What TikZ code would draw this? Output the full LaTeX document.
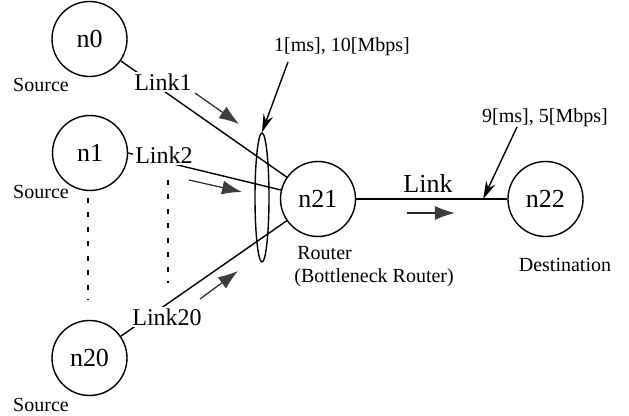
\documentclass[tikz,border=0pt]{standalone}
\usepackage{fontspec}
\setmainfont{Liberation Serif}
\usetikzlibrary{arrows.meta, shapes.geometric}
\definecolor{flowgray}{RGB}{60, 62, 56}

\begin{document}
\begin{tikzpicture}[
  x=0.5pt, y=-0.5pt,
  host/.style={circle, draw, line width=0.7pt, minimum size=37.5pt, inner sep=0pt, font=\fontsize{13}{15}\selectfont},
  role/.style={inner sep=0pt, font=\fontsize{10}{12}\selectfont},
  linklabel/.style={fill=white, inner sep=1pt, font=\fontsize{12}{14}\selectfont},
  line/.style={draw, line width=0.7pt},
  flow/.style={draw=black!85, line width=0.6pt, -{Latex[length=10pt, width=7pt, fill=flowgray, color=flowgray]}},
  pointer/.style={draw, line width=0.7pt, -{Stealth[length=9pt, width=5pt]}},
  dots/.style={draw, line width=0.7pt, dash pattern=on 2.5pt off 4.75pt}
]
  \useasboundingbox (0,0) rectangle (629,416);

  % hosts
  \node[host] (n0) at (89.5,39) {n0};
  \node[host] (n1) at (90,153) {n1};
  \node[host] (n20) at (89.5,358) {n20};
  \node[host] (n21) at (318,199) {n21};
  \node[host] (n22) at (545.5,199) {n22};

  \node[role] (src0) at (41,85) {Source};
  \node[role] (src1) at (41,192) {Source};
  \node[role] (src20) at (41,405) {Source};
  \node[role, anchor=west] (router) at (297,253) {Router};
  \node[role, anchor=west] (bneckrouter) at (294,278) {(Bottleneck Router)};
  \node[role] (dest) at (565,265) {Destination};

  % links
  \path[line] (n0) -- (n21);
  \path[line] (n1.east) -- (n21);
  \path[line] (n20) -- (n21);
  \path[line] (n21) -- (n22) coordinate[pos=0.84] (linkpt);

  \node[linklabel] (link1) at (163,82) {Link1};
  \node[linklabel] (link2) at (164,155) {Link2};
  \node[linklabel] (link20) at (167,317) {Link20};
  \node[font=\fontsize{13}{15}\selectfont] (link) at (428,183) {Link};

  % bottleneck
  \node[ellipse, draw, line width=0.7pt, minimum width=7pt, minimum height=64.5pt, inner sep=0pt] (bneck) at (262,197.5) {};

  \path[dots] (88,198) coordinate (d1a) -- (88,300) coordinate (d1b);
  \path[dots] (168,180) coordinate (d2a) -- (168,283) coordinate (d2b);

  % traffic direction
  \coordinate (f1a) at (195,93);   \coordinate (f1b) at (239,124);
  \coordinate (f2a) at (189,180);  \coordinate (f2b) at (242,192);
  \coordinate (f3a) at (200,299);  \coordinate (f3b) at (238,271);
  \coordinate (f4a) at (407,213);  \coordinate (f4b) at (455,213);
  \path[flow] (f1a) -- (f1b);
  \path[flow] (f2a) -- (f2b);
  \path[flow] (f3a) -- (f3b);
  \path[flow] (f4a) -- (f4b);

  % delays
  \node[role] (acc) at (342,47) {1[ms], 10[Mbps]};
  \node[role] (bott) at (545,118) {9[ms], 5[Mbps]};
  \coordinate (accpt) at (288,62);
  \coordinate (bottpt) at (517,127);
  \path[pointer] (accpt) -- (bneck.north);
  \path[pointer] (bottpt) -- (linkpt);

\end{tikzpicture}
\end{document}
